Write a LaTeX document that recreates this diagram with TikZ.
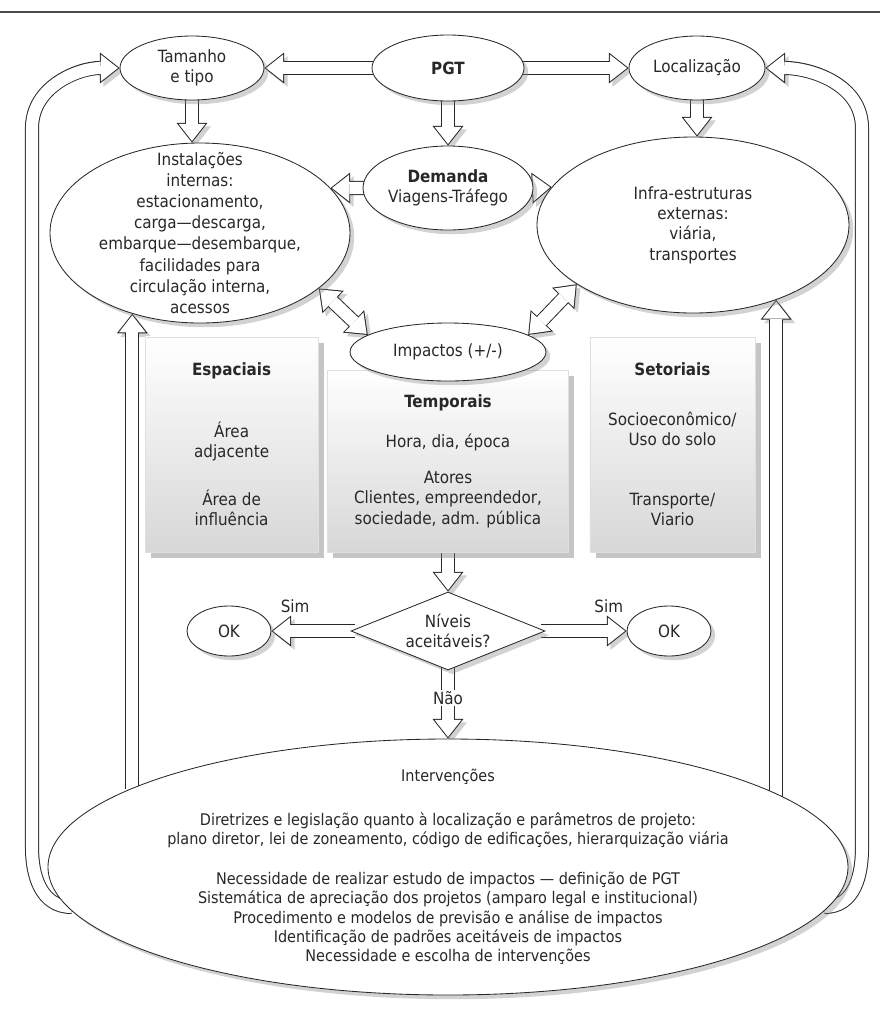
\documentclass[tikz,border=0pt]{standalone}
\usepackage{fontspec}
\setmainfont{DejaVu Sans Condensed}[BoldFont={DejaVu Sans Condensed Bold}]
\usepackage{xcolor}
\usepackage{tikz}
\usetikzlibrary{shapes,arrows.meta,positioning,calc,backgrounds,shadows}
\definecolor{inkgray}{RGB}{40, 40, 40}
\definecolor{panelgray}{RGB}{215, 215, 215}

\tikzset{
    bubble/.style={ellipse, draw=inkgray, line width=0.6pt, fill=white, inner sep=0pt, align=center,
        drop shadow={shadow xshift=3pt, shadow yshift=-3pt, opacity=0.35}},
    decision/.style={diamond, aspect=2.5, draw=inkgray, line width=0.6pt, fill=white, inner sep=0pt, align=center,
        drop shadow={shadow xshift=3pt, shadow yshift=-3pt, opacity=0.35}},
    panel/.style={rectangle, draw=gray!25, top color=white, bottom color=panelgray, align=center,
        drop shadow={shadow xshift=4pt, shadow yshift=-4pt, opacity=0.45}},
    flow/.style={draw=inkgray, line width=10pt, shorten <=-3pt,
        -{Triangle[length=14pt, width=22pt, line width=0pt]},
        preaction={draw=black, opacity=0.18, transform canvas={shift={(2.5pt,-2.5pt)}}},
        postaction={draw=white, line width=8.6pt, shorten >=1.13pt,
            -{Triangle[length=12.2pt, width=19.1pt, line width=0pt]}}},
    flowboth/.style={draw=inkgray, line width=10pt,
        {Triangle[length=14pt, width=22pt, line width=0pt]}-{Triangle[length=14pt, width=22pt, line width=0pt]},
        preaction={draw=black, opacity=0.18, transform canvas={shift={(2.5pt,-2.5pt)}}},
        postaction={draw=white, line width=8.6pt, shorten >=1.13pt, shorten <=1.13pt,
            {Triangle[length=12.2pt, width=19.1pt, line width=0pt]}-{Triangle[length=12.2pt, width=19.1pt, line width=0pt]}}}
}

\begin{document}
\begin{tikzpicture}[every node/.style={font=\fontsize{12}{14.5}\selectfont, text=inkgray}]
    \useasboundingbox (0,0) rectangle (22,-25.3);

    % Top row
    \node[bubble, minimum width=3.6cm, minimum height=1.6cm] (tamanho) at (4.8,-1.7) {Tamanho\\e tipo};
    \node[bubble, minimum width=3.8cm, minimum height=1.65cm] (pgt) at (11.2,-1.7) {\textbf{PGT}};
    \node[bubble, minimum width=3.4cm, minimum height=1.6cm] (local) at (17.425,-1.7) {Localização};

    % Facilities, demand, infrastructure
    \node[bubble, minimum width=7.5cm, minimum height=4.5cm,
          label={[name=instal-txt, align=center, font=\fontsize{12}{15}\selectfont]center:{Instalações\\internas:\\estacionamento,\\carga—descarga,\\embarque—desembarque,\\facilidades para\\circulação interna,\\acessos}}] (instal) at (5,-5.825) {};
    \node[bubble, minimum width=4.25cm, minimum height=2.1cm,
          label={[name=demanda-txt, align=center]center:{\textbf{Demanda}\\Viagens-Tráfego}}] (demanda) at (11.2,-4.7) {};
    \node[bubble, minimum width=7.8cm, minimum height=4.4cm,
          label={[name=infra-txt, align=center]center:{Infra-estruturas\\externas:\\viária,\\transportes}}] (infra) at (17.325,-5.625) {};

    % Impact panels
    \node[panel, minimum width=4.325cm, minimum height=5.375cm] (espbox) at (5.79,-11.11)
        {\textbf{Espaciais}\\[29.5pt]Área\\adjacente\\[19.5pt]Área de\\influência};
    \node[panel, minimum width=6.025cm, minimum height=4.55cm] (tempbox) at (11.2,-11.525)
        {\textbf{Temporais}\\[14pt]Hora, dia, época\\[11pt]Atores\\Clientes, empreendedor,\\sociedade, adm. pública};
    \node[panel, minimum width=4.125cm, minimum height=5.375cm] (setbox) at (16.81,-11.11)
        {\textbf{Setoriais}\\[21pt]Socioeconômico/\\Uso do solo\\[28pt]Transporte/\\Viario};
    \node[bubble, minimum width=4.9cm, minimum height=1.45cm] (impactos) at (11.2,-8.8) {Impactos (+/-)};

    % Decision
    \node[decision, minimum width=4.85cm, minimum height=1.95cm] (niveis) at (11.2,-15.775) {Níveis\\aceitáveis?};
    \node[bubble, minimum width=2.1cm, minimum height=1.25cm] (okleft) at (5.725,-15.775) {OK};
    \node[bubble, minimum width=2.1cm, minimum height=1.25cm] (okright) at (16.725,-15.775) {OK};

    % Interventions
    \node[bubble, minimum width=20cm, minimum height=6.4cm,
          label={[name=interv-txt, align=center, font=\fontsize{11.4}{13.8}\selectfont]center:{Intervenções\\[17.2pt]Diretrizes e legislação quanto à localização e parâmetros de projeto:\\plano diretor, lei de zoneamento, código de edificações, hierarquização viária\\[14.6pt]Necessidade de realizar estudo de impactos — definição de PGT\\Sistemática de apreciação dos projetos (amparo legal e institucional)\\Procedimento e modelos de previsão e análise de impactos\\Identificação de padrões aceitáveis de impactos\\Necessidade e escolha de intervenções}}] (interv) at (11.2,-21.675) {};

    % Arrows
    \begin{scope}[on background layer]
        \fill[white] (0,0) rectangle (22,-25.3);
        \draw[line width=1.5pt, black!70] (0,-0.3) -- (22,-0.3);
        \draw[flow] (pgt) -- (tamanho);
        \draw[flow] (pgt) -- (local);
        \draw[flow] (tamanho.south) -- (tamanho.south |- instal.north);
        \draw[flow] (pgt) -- (demanda);
        \draw[flow] (local.south) -- (local.south |- infra.north);
        \draw[flow] (demanda.west) -- (instal.19);
        \draw[flow] (demanda.east) -- (infra.165);
        \draw[flowboth] (instal.-25) -- (impactos.168);
        \draw[flowboth] (infra.207) -- (impactos.12);
        \draw[flow] (tempbox) -- (niveis);
        \draw[flow] (niveis) -- node[pos=0.7, above=5pt] (simleft) {Sim} (okleft);
        \draw[flow] (niveis) -- node[pos=0.78, above=5pt] (simright) {Sim} (okright);
        \draw[flow] (niveis) -- node[pos=0.4, fill=white, inner sep=1pt] (nao) {Não} (interv);
        \draw[flow] (interv.165 -| instal.230) -- (instal.230);
        \draw[flow] (interv.12 -| infra.-42) -- (infra.-42);
        \draw[flow] (interv.186) to[out=180,in=-90] (0.8,-21.2) -- (0.8,-3.2) to[out=90,in=180] (tamanho.west);
        \draw[flow] (interv.-6) to[out=0,in=-90] (21.55,-21.2) -- (21.55,-3.2) to[out=90,in=0] (local.east);
    \end{scope}
\end{tikzpicture}
\end{document}
